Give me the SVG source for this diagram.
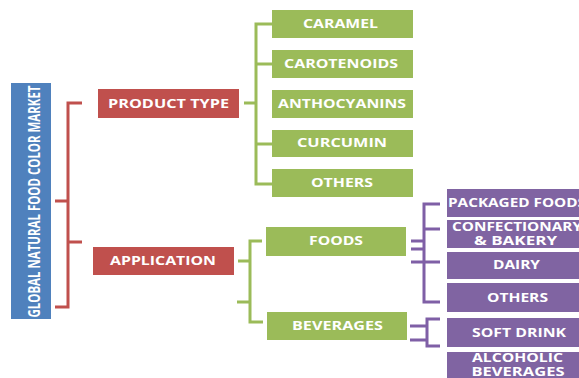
<svg xmlns="http://www.w3.org/2000/svg" width="579" height="378" viewBox="0 0 579 378">
<style>
.t{font-family:"Open Sans","Liberation Sans",sans-serif;font-weight:bold;font-size:12.5px;fill:#fff;text-anchor:middle}
.s{font-size:11.5px}
.red{fill:#C0504D}.grn{fill:#9BBB59}.pur{fill:#8064A2}.blu{fill:#4F81BD}
.lr{stroke:#C0504D;stroke-width:3;fill:none}
.lg{stroke:#9BBB59;stroke-width:3;fill:none}
.lp{stroke:#7F5FA6;stroke-width:3;fill:none}
</style>
<rect width="579" height="378" fill="#fff"/>
<g id="connectors">
<path class="lr" d="M82,103H68V307H55M55,201H68M68,242H82"/>
<path class="lg" d="M244,103H256M272,24H256V184H272M256,64H272M256,144H272"/>
<path class="lg" d="M262,241H250V322H263M238,261H250M237,302H250"/>
<path class="lp" d="M440,204H424V302H440M424,229H440M411,262H440M411,241H424M411,249H424"/>
<path class="lp" d="M440,319H427V346H440M410,326H427M410,340H427"/>
</g>
<g id="root"><rect class="blu" x="11" y="83" width="40" height="236"/>
<text class="t" transform="translate(39.5,201.5) rotate(-90)" style="font-size:15.5px" textLength="232" lengthAdjust="spacingAndGlyphs">GLOBAL NATURAL FOOD COLOR MARKET</text></g>
<g id="product-type"><rect class="red" x="98" y="89" width="141" height="29"/><text class="t" x="168.5" y="108" textLength="121" lengthAdjust="spacingAndGlyphs">PRODUCT TYPE</text></g>
<g id="application"><rect class="red" x="93" y="247" width="141" height="28"/><text class="t" x="163" y="265" textLength="106" lengthAdjust="spacingAndGlyphs">APPLICATION</text></g>
<g id="caramel"><rect class="grn" x="272" y="10" width="141" height="28"/><text class="t" x="340.5" y="28" textLength="75" lengthAdjust="spacingAndGlyphs">CARAMEL</text></g>
<g id="carotenoids"><rect class="grn" x="272" y="50" width="141" height="28"/><text class="t" x="341" y="68" textLength="114" lengthAdjust="spacingAndGlyphs">CAROTENOIDS</text></g>
<g id="anthocyanins"><rect class="grn" x="272" y="90" width="141" height="28"/><text class="t" x="342" y="108" textLength="128" lengthAdjust="spacingAndGlyphs">ANTHOCYANINS</text></g>
<g id="curcumin"><rect class="grn" x="272" y="130" width="141" height="27"/><text class="t" x="342" y="147" textLength="90" lengthAdjust="spacingAndGlyphs">CURCUMIN</text></g>
<g id="others-pt"><rect class="grn" x="272" y="169" width="141" height="28"/><text class="t" x="342" y="187" textLength="62" lengthAdjust="spacingAndGlyphs">OTHERS</text></g>
<g id="foods"><rect class="grn" x="266" y="227" width="140" height="29"/><text class="t" x="336" y="245" textLength="54" lengthAdjust="spacingAndGlyphs">FOODS</text></g>
<g id="beverages"><rect class="grn" x="267" y="312" width="140" height="28"/><text class="t" x="337.5" y="330" textLength="91" lengthAdjust="spacingAndGlyphs">BEVERAGES</text></g>
<g id="packaged-food"><rect class="pur" x="447" y="189" width="140" height="28"/><text class="t" x="517" y="207" textLength="138" lengthAdjust="spacingAndGlyphs">PACKAGED FOODS</text></g>
<g id="confectionary"><rect class="pur" x="447" y="220" width="140" height="28"/><text class="t s" x="517" y="231" textLength="130" lengthAdjust="spacingAndGlyphs">CONFECTIONARY</text><text class="t s" x="515.5" y="245" textLength="83" lengthAdjust="spacingAndGlyphs">&amp; BAKERY</text></g>
<g id="dairy"><rect class="pur" x="447" y="252" width="140" height="27"/><text class="t" x="516.5" y="269" textLength="47" lengthAdjust="spacingAndGlyphs">DAIRY</text></g>
<g id="others-app"><rect class="pur" x="447" y="283" width="140" height="29"/><text class="t" x="517.5" y="302" textLength="61" lengthAdjust="spacingAndGlyphs">OTHERS</text></g>
<g id="soft-drink"><rect class="pur" x="447" y="318" width="140" height="29"/><text class="t" x="519" y="337" textLength="94" lengthAdjust="spacingAndGlyphs">SOFT DRINK</text></g>
<g id="alcoholic"><rect class="pur" x="447" y="352" width="140" height="30"/><text class="t s" x="517.5" y="362" textLength="91" lengthAdjust="spacingAndGlyphs">ALCOHOLIC</text><text class="t s" x="518" y="376" textLength="93" lengthAdjust="spacingAndGlyphs">BEVERAGES</text></g>
</svg>
